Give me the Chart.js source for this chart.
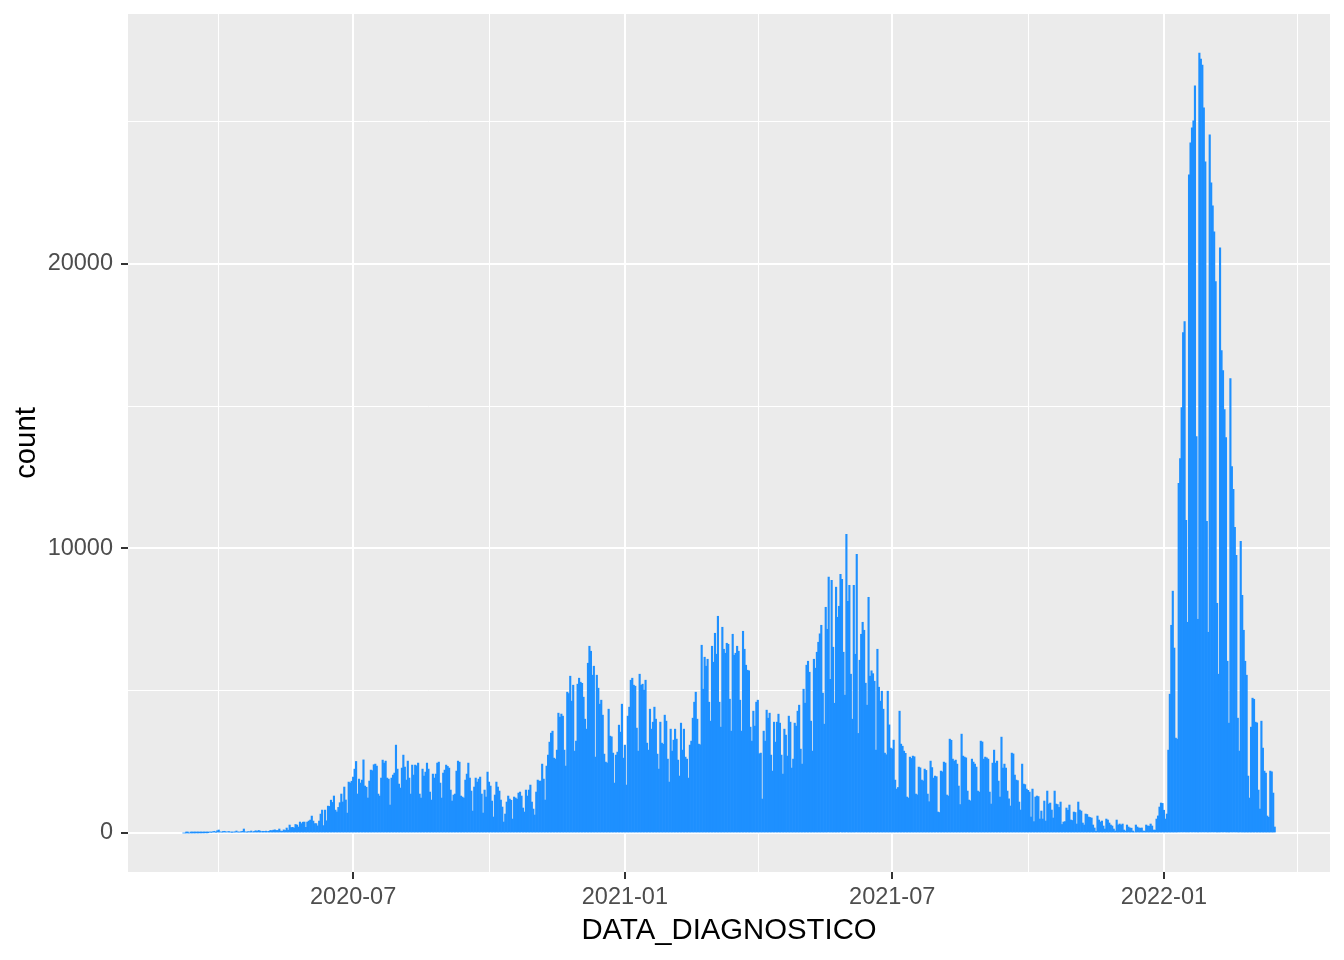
<!DOCTYPE html>
<html>
<head>
<meta charset="utf-8">
<script src="https://cdn.jsdelivr.net/npm/chart.js@4.4.1/dist/chart.umd.min.js"></script>
<style>
  html, body { margin: 0; padding: 0; background: #FFFFFF; }
  canvas { display: block; }
</style>
</head>
<body>
<canvas id="chart" width="1344" height="960"></canvas>
<script>
// ---------------- DATA ----------------
const firstDate = '2020-03-08';   // date of the first daily count

// daily counts 2020-03-08 .. 2020-12-31
const cases2020 = [
  0,0,1,1,0,2,1,1,2,3,2,3,4,3,5,6,5,8,
  35,20,45,60,25,80,105,40,30,55,60,35,45,50,30,25,30,40,70,35,30,45,60,140,40,30,50,45,70,35,55,80,60,90,70,50,60,55,65,50,60,90,80,100,110,90,
  90,140,70,60,110,90,175,100,280,190,200,175,300,280,210,385,330,380,385,200,
  385,420,455,595,420,330,330,250,420,665,805,260,805,430,945,935,1155,1075,1300,805,
  740,900,1065,1370,1090,1615,1160,700,1790,1760,1820,1965,2245,2515,1370,1895,1755,1860,2570,1650,
  1610,1230,1825,
  2211,2190,2399,2422,2352,1369,1299,1931,2562,2457,
  2527,1931,1895,983,1931,2036,2106,3089,2246,1720,
  1580,2282,2738,2317,1860,2527,1931,1369,2387,2036,
  2387,2360,2457,1369,1229,2246,2001,2141,2457,2246,
  1439,1158,2071,1931,2071,2457,2492,1755,1229,2106,
  2211,2387,2340,2282,1509,1123,1334,1369,2176,2527,
  2490,1299,1264,1229,1860,2071,2457,1931,1474,772,
  1615,1931,1790,1895,1966,1369,702,1509,1264,2141,
  1790,1650,1123,562,1334,1790,1615,1474,1158,913,
  386,667,1088,1299,1193,1150,491,1264,1229,1190,
  1404,1439,1299,878,737,1509,1299,1509,1685,1088,
  842,632,1439,1860,1825,
  1825,2422,1895,1158,2352,2738,3194,3510,3580,2632,
  2597,2913,4212,4072,4180,4107,2913,2352,4949,4900,
  5511,4633,5195,2878,3229,5230,5441,5300,5260,4774,
  4001,3650,5967,6564,6388,5546,5862,2668,5546,5090,
  4528,4668,4142,2773,2492,2460,4352,3405,3380,2808,
  1755,2738,2843,3791,3545,4528,2632
];

// daily counts 2021-01-01 .. 2021-12-31
const cases2021 = [
  3089,1685,4107,4423,5370,5441,5195,5160,3686,2878,
  5581,5195,5230,5019,5370,3159,2913,4352,3650,3896,
  4423,4001,2773,2246,3896,3159,3120,4142,3931,2597,
  1790,3650,2878,3264,3650,3299,2562,2001,3861,2913,
  3650,2668,2597,1930,3089,3229,4036,4598,4949,4001,
  3124,3100,
  6599,5054,6178,5862,6107,4598,3931,6564,6002,7020,
  6283,7617,4598,3721,7231,6458,6318,6669,6634,4703,
  3580,6985,6248,6318,6564,6388,4668,3580,7090,6458,
  5897,5721,5700,3721,3229,4282,3756,4598,4668,2785,
  2808,1193,3580,3229,4317,4036,4212,2738,2176,3896,
  3194,3896,4177,3861,2738,2071,3650,3440,2703,4107,
  3896,2282,2597,3861,3756,4282,4493,2948,2422,5054,
  4563,5897,6037,5651,3931,2878,6107,5792,6353,6704,
  7000,7301,4914,3826,7933,7160,8990,5400,8880,6530,
  4560,8640,7582,7968,9090,8915,6353,4844,10500,8143,
  8705,5581,4000,8705,6283,9793,3500,6072,6985,7406,
  7125,5265,4493,8284,5511,5700,5600,5335,2913,6458,
  5124,4633,4984,4352,2808,2750,4984,3800,2984,2950,
  3264,1860,1544,1600,4282,3124,3050,2878,2800,1264,
  1230,2668,2620,2703,2680,1369,1340,2317,2290,1860,
  1830,2246,2200,1369,1100,2527,2300,1930,2001,1980,
  737,720,2176,2150,2492,2460,1334,1300,3299,3260,
  2597,2527,2562,2422,1650,1000,3475,2703,2668,2640,
  1474,1158,1130,2597,2492,2422,2317,1474,1440,3229,
  3200,2597,2668,2640,2597,1439,1018,2457,2913,2457,
  2527,1825,1264,3370,2282,2422,2282,1474,1200,948,
  2808,2780,2036,1860,1840,1088,807,2422,1720,1700,
  1544,1500,1439,562,1544,400,1264,1299,1280,491,
  772,491,1123,421,1474,1018,1053,807,527,1474,
  1018,1000,900,1088,300,386,400,878,800,983,
  456,440,737,720,316,1088,807,772,351,281,
  667,650,562,545,527,281,176,60,597,456,
  386,421,246,140,491,456,351,281,246,140,
  70,456,281,316,281,316,105,70,281,211,
  176,170,70,35,281,211,176,170,176,70,
  65,281,246,240,316,246,105,100,491,600,
  913,1053,1040
];

// daily counts 2022-01-01 .. 2022-03-17
const cases2022 = [
  800,491,667,
  2913,4879,7301,8500,6500,3335,3300,12285,13163,14953,
  17585,17971,10986,7406,23131,24254,24780,25026,26255,13935,
  7511,27413,27203,26992,25483,23587,10951,7055,24535,22850,
  22043,21131,19376,8073,5581,20569,16953,16251,14882,13900,
  6037,3861,15971,12882,12074,10740,9757,4036,2879,10248,
  8354,7125,6037,5546,2001,1229,3721,4739,4700,3896,
  3870,1509,842,3931,2984,2176,2106,597,550,2176,
  2150,1404,211
];

const xTickLabels = ['2020-07', '2021-01', '2021-07', '2022-01'];
const yTickValues = [0, 10000, 20000];

const xTitle = 'DATA_DIAGNOSTICO';
const yTitle = 'count';

// ---------------- BUILD ----------------
const DAY = 86400000;
function toDay(s) {
  const p = s.split('-').map(Number);
  return Math.round(Date.UTC(p[0], p[1] - 1, p[2] || 1) / DAY);
}
function shiftMonths(s, m) {
  const p = s.split('-').map(Number);
  const d = new Date(Date.UTC(p[0], p[1] - 1 + m, 1));
  return d.getUTCFullYear() + '-' + String(d.getUTCMonth() + 1).padStart(2, '0');
}

const allCases = cases2020.concat(cases2021, cases2022);
const d0 = toDay(firstDate);
const points = allCases.map((v, i) => ({ x: d0 + i, y: v }));

const majorDays = xTickLabels.map(toDay);
const labelByDay = {};
xTickLabels.forEach((l, i) => { labelByDay[majorDays[i]] = l; });
const prevMajor = toDay(shiftMonths(xTickLabels[0], -6));
const nextMajor = toDay(shiftMonths(xTickLabels[xTickLabels.length - 1], 6));
const ext = [prevMajor].concat(majorDays, [nextMajor]);
const minorDays = [];
for (let i = 0; i < ext.length - 1; i++) minorDays.push((ext[i] + ext[i + 1]) / 2);
const xTicks = majorDays.concat(minorDays).sort((a, b) => a - b);

const lo = d0 - 0.45, hi = d0 + allCases.length - 1 + 0.45;
const xspan = hi - lo;
const xMin = lo - 0.05 * xspan, xMax = hi + 0.05 * xspan;

const yMaxData = Math.max.apply(null, allCases);
const yMin = -0.05 * yMaxData, yMax = 1.05 * yMaxData;
const yStep = yTickValues[1] - yTickValues[0];
const yMinor = [];
for (let i = 0; i < yTickValues.length; i++) yMinor.push(yTickValues[i] + yStep / 2);
const yTicks = yTickValues.concat(yMinor.filter(v => v < yMax)).sort((a, b) => a - b);
const yMajorSet = new Set(yTickValues);

const FONT = "'Liberation Sans', Arial, sans-serif";

const panelBg = {
  id: 'panelBg',
  beforeDraw(chart) {
    const { ctx, chartArea: a } = chart;
    ctx.save();
    ctx.fillStyle = '#FFFFFF';
    ctx.fillRect(0, 0, chart.width, chart.height);
    ctx.fillStyle = '#EBEBEB';
    ctx.fillRect(a.left, a.top, a.right - a.left, a.bottom - a.top);
    ctx.restore();
  }
};

function noPad(s) {
  s.paddingTop = 0; s.paddingBottom = 0; s.paddingLeft = 0; s.paddingRight = 0;
}

new Chart(document.getElementById('chart'), {
  type: 'bar',
  data: {
    datasets: [{
      data: points,
      backgroundColor: '#1E90FF',
      borderWidth: 0,
      barPercentage: 1.0,
      categoryPercentage: 1.0
    }]
  },
  options: {
    responsive: false,
    animation: false,
    devicePixelRatio: 1,
    layout: { padding: { top: 14, right: 14, left: 0, bottom: 0 } },
    plugins: { legend: { display: false }, tooltip: { enabled: false } },
    scales: {
      x: {
        type: 'linear',
        min: xMin,
        max: xMax,
        offset: false,
        afterBuildTicks: s => { s.ticks = xTicks.map(v => ({ value: v })); },
        afterFit: s => { s.height = 88; noPad(s); },
        border: { display: false },
        grid: {
          offset: false,
          color: '#FFFFFF',
          lineWidth: c => (c.tick && labelByDay[c.tick.value] !== undefined) ? 2 : 1,
          drawTicks: true,
          tickLength: 7,
          tickWidth: 2,
          tickColor: c => (c.tick && labelByDay[c.tick.value] !== undefined) ? '#333333' : 'rgba(0,0,0,0)'
        },
        ticks: {
          autoSkip: false,
          maxRotation: 0,
          minRotation: 0,
          padding: 4,
          color: '#4D4D4D',
          font: { family: FONT, size: 23.5 },
          callback: v => (labelByDay[v] !== undefined ? labelByDay[v] : '')
        },
        title: {
          display: true,
          text: xTitle,
          color: '#000000',
          font: { family: FONT, size: 29.3 },
          padding: { top: 0, bottom: 12 }
        }
      },
      y: {
        type: 'linear',
        min: yMin,
        max: yMax,
        afterBuildTicks: s => { s.ticks = yTicks.map(v => ({ value: v })); },
        afterFit: s => { s.width = 128; noPad(s); },
        border: { display: false },
        grid: {
          color: '#FFFFFF',
          lineWidth: c => (c.tick && yMajorSet.has(c.tick.value)) ? 2 : 1,
          drawTicks: true,
          tickLength: 7,
          tickWidth: 2,
          tickColor: c => (c.tick && yMajorSet.has(c.tick.value)) ? '#333333' : 'rgba(0,0,0,0)'
        },
        ticks: {
          autoSkip: false,
          padding: 8,
          color: '#4D4D4D',
          font: { family: FONT, size: 23.5 },
          callback: v => (yMajorSet.has(v) ? String(v) : '')
        },
        title: {
          display: true,
          text: yTitle,
          color: '#000000',
          font: { family: FONT, size: 29.3 },
          padding: { top: 9, bottom: 0 }
        }
      }
    }
  },
  plugins: [panelBg]
});
</script>
</body>
</html>
